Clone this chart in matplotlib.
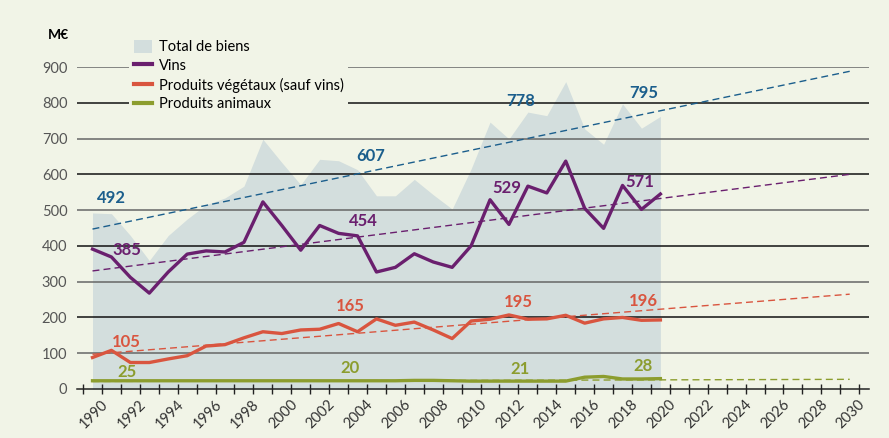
import matplotlib.pyplot as plt
from matplotlib.patches import Patch
from matplotlib.lines import Line2D
from matplotlib.transforms import ScaledTranslation

years = list(range(1990, 2021))
total = [492, 490, 429, 359, 429, 475, 515, 534, 567, 698, 633, 571, 642, 638,
         613, 540, 540, 586, 543, 503, 615, 746, 699, 774, 764, 859, 727, 684,
         797, 729, 762]
vins = [391, 369, 312, 268, 327, 377, 386, 383, 410, 523, 457, 388, 457, 435,
        428, 327, 340, 378, 355, 340, 400, 529, 460, 567, 548, 637, 505, 449,
        569, 502, 545]
vegetaux = [88, 108, 74, 74, 84, 93, 120, 124, 143, 160, 155, 165, 167, 183,
            160, 196, 178, 187, 165, 141, 190, 195, 207, 195, 196, 206, 184, 196,
            200, 192, 193]
animaux = [23, 23, 23, 23, 23, 23, 23, 23, 23, 23, 23, 23, 23, 23,
           23, 23, 23, 24, 24, 23, 22, 22, 22, 22, 22, 22, 33, 35,
           28, 28, 29]

trend_years = [1990, 2030]
trend_total = [447, 888]
trend_vins = [330, 600]
trend_vegetaux = [97, 265]
trend_animaux = [21, 27]

# value labels: (year position, y position, text)
labels_total = [(1991.0, 534, "492"), (2004.7, 650, "607"), (2012.6, 805, "778"), (2019.1, 828, "795")]
labels_vins = [(1991.8, 388, "385"), (2004.3, 469, "454"), (2011.9, 562, "529"), (2018.9, 579, "571")]
labels_veg = [(1991.8, 130, "105"), (2003.6, 232, "165"), (2012.5, 243, "195"), (2019.1, 246, "196")]
labels_anim = [(1991.8, 48, "25"), (2003.6, 59, "20"), (2012.6, 56, "21"), (2019.1, 65, "28")]

bg = "#f1f4e7"
c_area = "#d3dedd"
c_blue = "#1b5e8c"
c_vins = "#6a1f6e"
c_veg = "#d9553f"
c_anim = "#8c9d2e"

plt.rcParams['font.family'] = ['Lato', 'DejaVu Sans']

fig = plt.figure(figsize=(8.89, 4.38), dpi=100, facecolor=bg)
ax = fig.add_axes([0.0866, 0.1119, 0.8909, 0.7351])
ax.set_facecolor(bg)

ax.fill_between(years, 0, total, color=c_area, linewidth=0, zorder=1)

for v in range(100, 1000, 100):
    col = "#111111" if (v // 100) % 2 == 0 else "#666666"
    ax.axhline(v, color=col, linewidth=1.1, zorder=2)

ax.plot(trend_years, trend_total, color=c_blue, lw=1.0, ls=(0, (5, 3)), zorder=3)
ax.plot(trend_years, trend_vins, color=c_vins, lw=1.0, ls=(0, (5, 3)), zorder=3)
ax.plot(trend_years, trend_vegetaux, color=c_veg, lw=1.0, ls=(0, (5, 3)), zorder=3)
ax.plot(trend_years, trend_animaux, color=c_anim, lw=1.0, ls=(0, (5, 3)), zorder=3)

ax.plot(years, vins, color=c_vins, lw=2.4, zorder=4)
ax.plot(years, vegetaux, color=c_veg, lw=2.4, zorder=4)
ax.plot(years, animaux, color=c_anim, lw=2.4, zorder=4)

for lst, col in [(labels_total, c_blue), (labels_vins, c_vins),
                 (labels_veg, c_veg), (labels_anim, c_anim)]:
    for x, y, t in lst:
        ax.text(x, y, t, color=col, fontsize=12, fontweight='bold',
                ha='center', va='center', zorder=5)

ax.set_xlim(1989.18, 2031.02)
ax.set_ylim(0, 900)

for s in ['top', 'right', 'left']:
    ax.spines[s].set_visible(False)
ax.spines['bottom'].set_color("#222222")
ax.spines['bottom'].set_linewidth(1.1)

ax.set_yticks(range(0, 1000, 100))
ax.tick_params(axis='y', length=0, pad=7, labelsize=10.5, labelcolor="#555555")

ax.set_xticks(list(range(1990, 2031, 2)))
ax.set_xticklabels([str(y) for y in range(1990, 2031, 2)], rotation=45,
                   ha='right', rotation_mode='anchor')
ax.set_xticks([y + 0.5 for y in range(1989, 2031)], minor=True)
ax.tick_params(axis='x', which='major', length=0, pad=6, labelsize=10.5, labelcolor="#333333")
ax.tick_params(axis='x', which='minor', direction='inout', length=7, width=1, color="#222222")
for lab in ax.get_xticklabels():
    lab.set_transform(lab.get_transform() + ScaledTranslation(6 / 72, 0, fig.dpi_scale_trans))

fig.text(58 / 889, 1 - 35 / 438, "M€", fontsize=10, fontweight='bold', ha='center', va='center')

handles = [Patch(facecolor=c_area, edgecolor='none'),
           Line2D([], [], color=c_vins, lw=3),
           Line2D([], [], color=c_veg, lw=3),
           Line2D([], [], color=c_anim, lw=3)]
names = ["Total de biens", "Vins", "Produits végétaux (sauf vins)", "Produits animaux"]
leg = fig.legend(handles, names, loc='upper left', bbox_to_anchor=(122 / 889, 1 - 28 / 438),
                 frameon=True, facecolor=bg, edgecolor='none', framealpha=1, fancybox=False,
                 fontsize=10.5, handlelength=1.25, handleheight=1.0, labelspacing=0.3,
                 handletextpad=0.5, borderpad=0.3)
leg.set_zorder(10)

fig.savefig("out.png", dpi=100, facecolor=bg)
